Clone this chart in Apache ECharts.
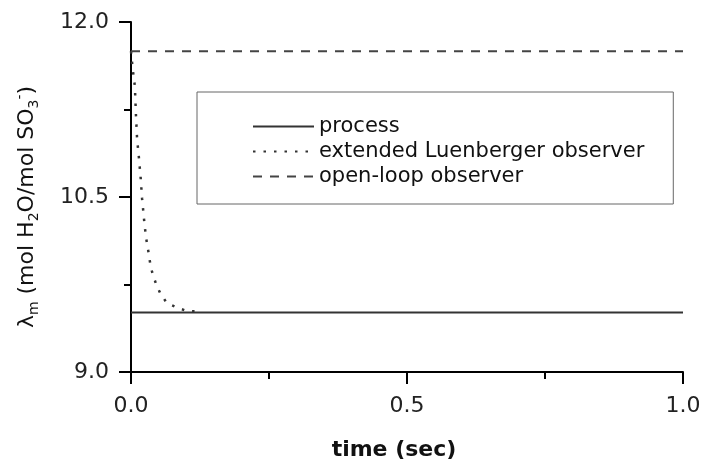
<!DOCTYPE html>
<html>
<head>
<meta charset="utf-8">
<script src="https://cdn.jsdelivr.net/npm/echarts@6/dist/echarts.min.js"></script>
<style>
html,body{margin:0;padding:0;background:#fff;}
#main{width:701px;height:463px;}
</style>
</head>
<body>
<div id="main"></div>
<script>
// ---- data ----
var seriesNames = ['process', 'extended Luenberger observer', 'open-loop observer'];
var processData = [[0, 9.51], [1.0, 9.51]];
var observerData = [
  [0.000, 11.75], [0.003, 11.60], [0.007, 11.45], [0.009, 11.20], [0.011, 11.00],
  [0.0145, 10.83], [0.0176, 10.66], [0.020, 10.49], [0.0236, 10.31], [0.027, 10.16],
  [0.0326, 10.00], [0.0357, 9.90], [0.040, 9.83], [0.045, 9.76], [0.0525, 9.68],
  [0.065, 9.59], [0.085, 9.55], [0.103, 9.52], [0.123, 9.52]
];
var openLoopData = [[0, 11.75], [1.0, 11.75]];
var xTicks = { min: 0, max: 1, interval: 0.5 };
var yTicks = { min: 9, max: 12, interval: 1.5 };

var FONT = 'DejaVu Sans';
var chart = echarts.init(document.getElementById('main'), null, { renderer: 'canvas' });

var axisCommon = {
  axisLine: { show: true, onZero: false, lineStyle: { color: '#000', width: 2 } },
  axisTick: { show: true, inside: false, length: 12, lineStyle: { color: '#000', width: 2 } },
  minorTick: { show: true, splitNumber: 2, length: 7, lineStyle: { color: '#000', width: 2 } },
  splitLine: { show: false },
  minorSplitLine: { show: false }
};

chart.setOption({
  animation: false,
  backgroundColor: '#fff',
  grid: { left: 131, right: 18, top: 22, bottom: 91, containLabel: false, outerBoundsMode: 'none' },
  legend: {
    orient: 'vertical',
    left: 197,
    top: 92,
    padding: [24, 29, 17, 55],
    itemGap: 4,
    itemWidth: 61,
    itemHeight: 14,
    borderColor: '#666',
    borderWidth: 1,
    itemStyle: { opacity: 0 },
    data: seriesNames,
    textStyle: { fontFamily: FONT, fontSize: 21, color: '#111' }
  },
  xAxis: Object.assign({}, axisCommon, {
    type: 'value',
    min: xTicks.min, max: xTicks.max, interval: xTicks.interval,
    name: 'time (sec)',
    nameLocation: 'middle',
    nameGap: 67,
    nameTextStyle: { fontFamily: FONT, fontSize: 22, fontWeight: 'bold', color: '#111', padding: [0, 26, 0, 0] },
    axisLabel: {
      margin: 23, fontFamily: FONT, fontSize: 22, color: '#222',
      formatter: function (v) { return v.toFixed(1); }
    }
  }),
  yAxis: Object.assign({}, axisCommon, {
    type: 'value',
    min: yTicks.min, max: yTicks.max, interval: yTicks.interval,
    name: '{n|λ}{s|m}{n| (mol H}{s|2}{n|O/mol SO}{s|3}{p|-}{n|)}',
    nameLocation: 'middle',
    nameRotate: 90,
    nameGap: 90,
    nameTextStyle: {
      fontFamily: FONT, fontSize: 22, color: '#111',
      padding: [0, 20, 0, 0],
      rich: {
        n: { fontFamily: FONT, fontSize: 22, lineHeight: 28, color: '#111', verticalAlign: 'middle' },
        s: { fontFamily: FONT, fontSize: 14, lineHeight: 14, color: '#111', verticalAlign: 'bottom' },
        p: { fontFamily: FONT, fontSize: 14, lineHeight: 14, color: '#111', verticalAlign: 'top' }
      }
    },
    axisLabel: {
      margin: 22, fontFamily: FONT, fontSize: 22, color: '#222',
      formatter: function (v) { return v.toFixed(1); }
    }
  }),
  series: [
    {
      name: seriesNames[0], type: 'line', data: processData,
      symbol: 'none', showSymbol: false,
      lineStyle: { color: '#333', width: 2, type: 'solid' },
      itemStyle: { color: '#333' }
    },
    {
      name: seriesNames[1], type: 'line', data: observerData,
      symbol: 'none', showSymbol: false, smooth: false,
      lineStyle: { color: '#333', width: 2.5, type: [2.5, 8] },
      itemStyle: { color: '#333' }
    },
    {
      name: seriesNames[2], type: 'line', data: openLoopData,
      symbol: 'none', showSymbol: false,
      lineStyle: { color: '#444', width: 2, type: [9, 8] },
      itemStyle: { color: '#444' }
    }
  ]
});
</script>
</body>
</html>
